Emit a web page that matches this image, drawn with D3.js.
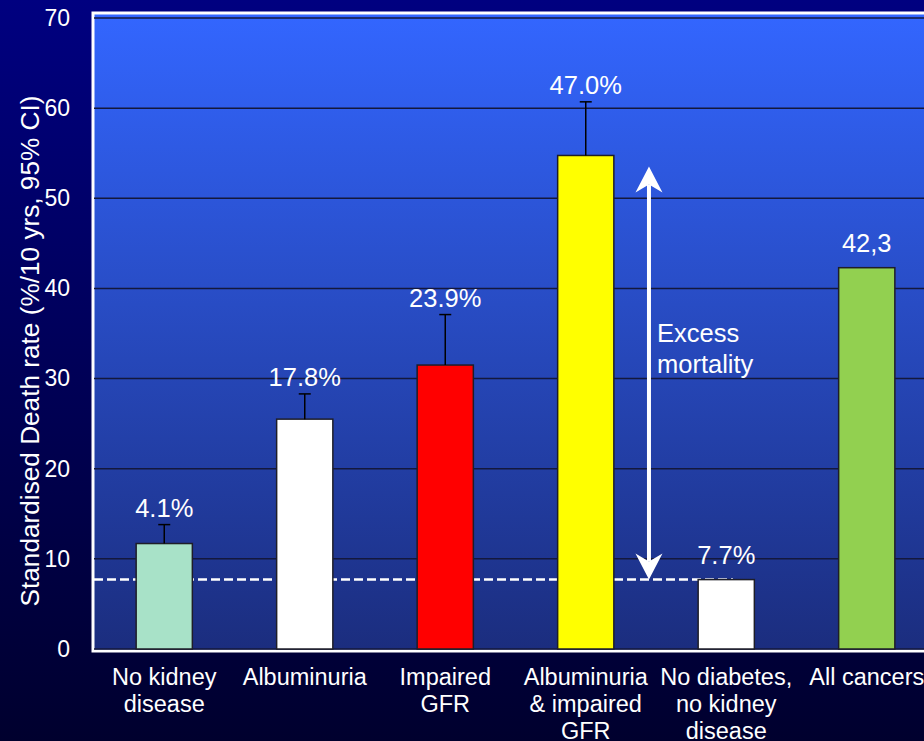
<!DOCTYPE html>
<html>
<head>
<meta charset="utf-8">
<script src="https://cdn.jsdelivr.net/npm/d3@7"></script>
<style>
  html, body { margin: 0; padding: 0; background: #000060; overflow: hidden; }
  svg { display: block; font-family: "Liberation Sans", Arial, sans-serif; }
</style>
</head>
<body>
<svg id="chart" width="924" height="741"></svg>
<script>
// ---- data ----
const categories = [
  ["No kidney", "disease"],
  ["Albuminuria"],
  ["Impaired", "GFR"],
  ["Albuminuria", "& impaired", "GFR"],
  ["No diabetes,", "no kidney", "disease"],
  ["All cancers"]
];
const values = [11.7, 25.5, 31.5, 54.75, 7.7, 42.3];
const errorHigh = [13.8, 28.3, 37.1, 60.7, null, null];
const valueLabels = ["4.1%", "17.8%", "23.9%", "47.0%", "7.7%", "42,3"];
const barColors = ["#a8e2c8", "#ffffff", "#ff0000", "#ffff00", "#ffffff", "#92d050"];
const yTicks = [0, 10, 20, 30, 40, 50, 60, 70];
const referenceValue = 7.7;
const yTitle = "Standardised Death rate (%/10 yrs, 95% CI)";
const arrowText = ["Excess", "mortality"];

// ---- setup ----
const W = 924, H = 741;
const svg = d3.select("#chart");
const defs = svg.append("defs");

const bgGrad = defs.append("linearGradient").attr("id", "bg").attr("x1", 0).attr("y1", 0).attr("x2", 0).attr("y2", 1);
bgGrad.append("stop").attr("offset", "0%").attr("stop-color", "#000080");
bgGrad.append("stop").attr("offset", "100%").attr("stop-color", "#00002e");

const plotGrad = defs.append("linearGradient").attr("id", "plotbg").attr("x1", 0).attr("y1", 0).attr("x2", 0).attr("y2", 1);
plotGrad.append("stop").attr("offset", "0%").attr("stop-color", "#3366ff");
plotGrad.append("stop").attr("offset", "100%").attr("stop-color", "#1b2d7e");

svg.append("rect").attr("width", W).attr("height", H).attr("fill", "url(#bg)");

const plotLeft = 93, plotTop = 13, plotBottom = 651, plotRight = 937;

const x = d3.scaleBand()
  .domain(d3.range(categories.length))
  .range([94, plotRight])
  .paddingInner(0.6)
  .paddingOuter(0.3);

const y = d3.scaleLinear().domain([0, 70]).range([649, 18]);

// plot area
svg.append("rect")
  .attr("x", plotLeft).attr("y", plotTop)
  .attr("width", plotRight - plotLeft + 10).attr("height", plotBottom - plotTop)
  .attr("fill", "url(#plotbg)")
  .attr("stroke", "#ffffff").attr("stroke-width", 3);

// gridlines
svg.append("g").selectAll("line").data(yTicks).join("line")
  .attr("x1", 94).attr("x2", W)
  .attr("y1", d => y(d)).attr("y2", d => y(d))
  .attr("stroke", "#14183c").attr("stroke-width", 1.5);

// y axis tick labels
const yAxis = d3.axisLeft(y).tickValues(yTicks).tickSize(0).tickPadding(0);
const yg = svg.append("g").attr("transform", "translate(70,0)").call(yAxis);
yg.select(".domain").remove();
yg.selectAll("text")
  .attr("fill", "#ffffff")
  .attr("font-size", 23)
  .attr("font-family", "Liberation Sans, Arial, sans-serif");

// y title
svg.append("text")
  .attr("transform", `translate(39,${(95 + 607) / 2}) rotate(-90)`)
  .attr("text-anchor", "middle")
  .attr("fill", "#ffffff")
  .attr("font-size", 26.2)
  .text(yTitle);

// dashed reference line
svg.append("line")
  .attr("x1", 94)
  .attr("x2", x(4) + x.bandwidth() * 0.62)
  .attr("y1", y(referenceValue)).attr("y2", y(referenceValue))
  .attr("stroke", "#ffffff").attr("stroke-width", 2.5)
  .attr("stroke-dasharray", "9,4");

// bars
svg.append("g").selectAll("rect").data(values).join("rect")
  .attr("x", (d, i) => x(i))
  .attr("y", d => y(d))
  .attr("width", x.bandwidth())
  .attr("height", d => y(0) - y(d))
  .attr("fill", (d, i) => barColors[i])
  .attr("stroke", "#1e1e28").attr("stroke-width", 1.5);

// error bars
const eg = svg.append("g");
errorHigh.forEach((e, i) => {
  if (e == null) return;
  const cx = x(i) + x.bandwidth() / 2;
  eg.append("line").attr("x1", cx).attr("x2", cx)
    .attr("y1", y(values[i])).attr("y2", y(e))
    .attr("stroke", "#000").attr("stroke-width", 1.5);
  eg.append("line").attr("x1", cx - 6).attr("x2", cx + 6)
    .attr("y1", y(e)).attr("y2", y(e))
    .attr("stroke", "#000").attr("stroke-width", 1.5);
});

// value labels
svg.append("g").selectAll("text").data(valueLabels).join("text")
  .attr("x", (d, i) => x(i) + x.bandwidth() / 2)
  .attr("y", (d, i) => errorHigh[i] != null ? y(errorHigh[i]) - 8 : y(values[i]) - 16)
  .attr("text-anchor", "middle")
  .attr("fill", "#ffffff")
  .attr("font-size", 25.5)
  .text(d => d);

// x labels
const xl = svg.append("g");
categories.forEach((lines, i) => {
  const t = xl.append("text")
    .attr("x", x(i) + x.bandwidth() / 2)
    .attr("y", 685)
    .attr("text-anchor", "middle")
    .attr("fill", "#ffffff")
    .attr("font-size", 23.5);
  lines.forEach((ln, j) => {
    t.append("tspan").attr("x", x(i) + x.bandwidth() / 2).attr("y", 685 + j * 27).text(ln);
  });
});

// double-headed arrow (excess mortality)
const ax = x(3) + x.bandwidth() / 2 + x.step() * 0.45;
const yTopTip = y(values[3]) + 11;
const yBotTip = y(referenceValue);
const headLen = 26, headHalf = 13.5, notch = 8;
const ag = svg.append("g").attr("fill", "#ffffff");
ag.append("line").attr("x1", ax).attr("x2", ax)
  .attr("y1", yTopTip + headLen - notch).attr("y2", yBotTip - headLen + notch)
  .attr("stroke", "#ffffff").attr("stroke-width", 4);
ag.append("path").attr("d",
  `M${ax},${yTopTip} L${ax + headHalf},${yTopTip + headLen} L${ax},${yTopTip + headLen - notch} L${ax - headHalf},${yTopTip + headLen} Z`);
ag.append("path").attr("d",
  `M${ax},${yBotTip} L${ax + headHalf},${yBotTip - headLen} L${ax},${yBotTip - headLen + notch} L${ax - headHalf},${yBotTip - headLen} Z`);

const at = svg.append("text").attr("fill", "#ffffff").attr("font-size", 25.5);
arrowText.forEach((ln, j) => {
  at.append("tspan").attr("x", ax + 8).attr("y", 342 + j * 31).text(ln);
});
</script>
</body>
</html>
